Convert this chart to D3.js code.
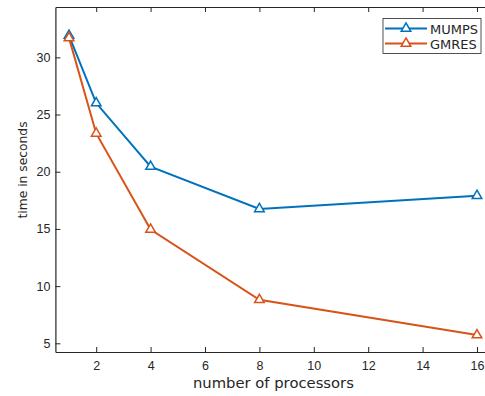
<!DOCTYPE html>
<html>
<head>
<meta charset="utf-8">
<script src="https://cdn.jsdelivr.net/npm/d3@7"></script>
<style>
  body { margin: 0; background: #fff; overflow: hidden; }
  svg { font-family: "DejaVu Sans", sans-serif; display: block; }
</style>
</head>
<body>
<div id="chart"></div>
<script>
"use strict";

var processors = [1, 2, 4, 8, 16];
var mumps = [31.9, 26.0, 20.45, 16.75, 17.9];
var gmres = [31.7, 23.35, 14.95, 8.8, 5.72];
var xTicks = [2, 4, 6, 8, 10, 12, 14, 16];
var yTicks = [5, 10, 15, 20, 25, 30];
var seriesNames = ["MUMPS", "GMRES"];

var width = 485, height = 396;
// the right side of the axes box falls outside the picture
var plot = { left: 55.4, top: 7, right: 490.6, bottom: 352 };
var axisColor = "#262626";
var colors = ["#0072BD", "#D95319"];

var svg = d3.select("#chart").append("svg")
    .attr("width", width)
    .attr("height", height);

var xScale = d3.scaleLinear()
    .domain([0.5, 16.5])
    .range([plot.left, plot.right]);

var yScale = d3.scaleLinear()
    .domain([4.24, 34.4])
    .range([plot.bottom, plot.top]);

var xAxis = svg.append("g")
    .attr("transform", "translate(0," + plot.bottom + ")")
    .call(d3.axisBottom(xScale).tickValues(xTicks).tickSizeInner(-5).tickSizeOuter(0).tickPadding(9));

var xTop = svg.append("g")
    .attr("transform", "translate(0," + plot.top + ")")
    .call(d3.axisTop(xScale).tickValues(xTicks).tickSizeInner(-5).tickSizeOuter(0).tickFormat(""));

var yAxis = svg.append("g")
    .attr("transform", "translate(" + plot.left + ",0)")
    .call(d3.axisLeft(yScale).tickValues(yTicks).tickSizeInner(-5).tickSizeOuter(0).tickPadding(5));

[xAxis, xTop, yAxis].forEach(function (g) {
    g.select(".domain").attr("stroke", axisColor).attr("stroke-width", 1.2);
    g.selectAll(".tick line").attr("stroke", axisColor);
    g.selectAll(".tick text")
        .attr("fill", axisColor)
        .style("font-size", "12.5px");
});

// axis labels
svg.append("text")
    .attr("x", 273.4)
    .attr("y", 388)
    .attr("text-anchor", "middle")
    .attr("fill", axisColor)
    .attr("textLength", 161)
    .attr("lengthAdjust", "spacingAndGlyphs")
    .style("font-size", "13.5px")
    .text("number of processors");

svg.append("text")
    .attr("transform", "translate(26.5,170) rotate(-90)")
    .attr("text-anchor", "middle")
    .attr("fill", axisColor)
    .style("font-size", "12.3px")
    .text("time in seconds");

var line = d3.line()
    .x(function (d) { return xScale(d[0]); })
    .y(function (d) { return yScale(d[1]); });

var triangle = d3.symbol().type(d3.symbolTriangle).size(40);

[mumps, gmres].forEach(function (vals, i) {
    var pts = processors.map(function (p, j) { return [p, vals[j]]; });
    svg.append("path")
        .datum(pts)
        .attr("fill", "none")
        .attr("stroke", colors[i])
        .attr("stroke-width", 2)
        .attr("d", line);

    svg.selectAll(".m" + i)
        .data(pts)
        .enter()
        .append("path")
        .attr("class", "m" + i)
        .attr("d", triangle)
        .attr("transform", function (d) { return "translate(" + xScale(d[0]) + "," + yScale(d[1]) + ")"; })
        .attr("fill", "white")
        .attr("stroke", colors[i])
        .attr("stroke-width", 1.5);
});

// legend
var legend = svg.append("g").attr("transform", "translate(383,18.5)");
legend.append("rect")
    .attr("width", 98)
    .attr("height", 35)
    .attr("fill", "white")
    .attr("stroke", axisColor)
    .attr("stroke-width", 0.8);

seriesNames.forEach(function (name, i) {
    var y = 10 + i * 15;
    legend.append("line")
        .attr("x1", 2).attr("x2", 44)
        .attr("y1", y).attr("y2", y)
        .attr("stroke", colors[i])
        .attr("stroke-width", 2);
    legend.append("path")
        .attr("d", triangle)
        .attr("transform", "translate(23," + y + ")")
        .attr("fill", "white")
        .attr("stroke", colors[i])
        .attr("stroke-width", 1.5);
    legend.append("text")
        .attr("x", 47)
        .attr("y", y + 5.5)
        .attr("fill", axisColor)
        .style("font-size", "13px")
        .text(name);
});
</script>
</body>
</html>
